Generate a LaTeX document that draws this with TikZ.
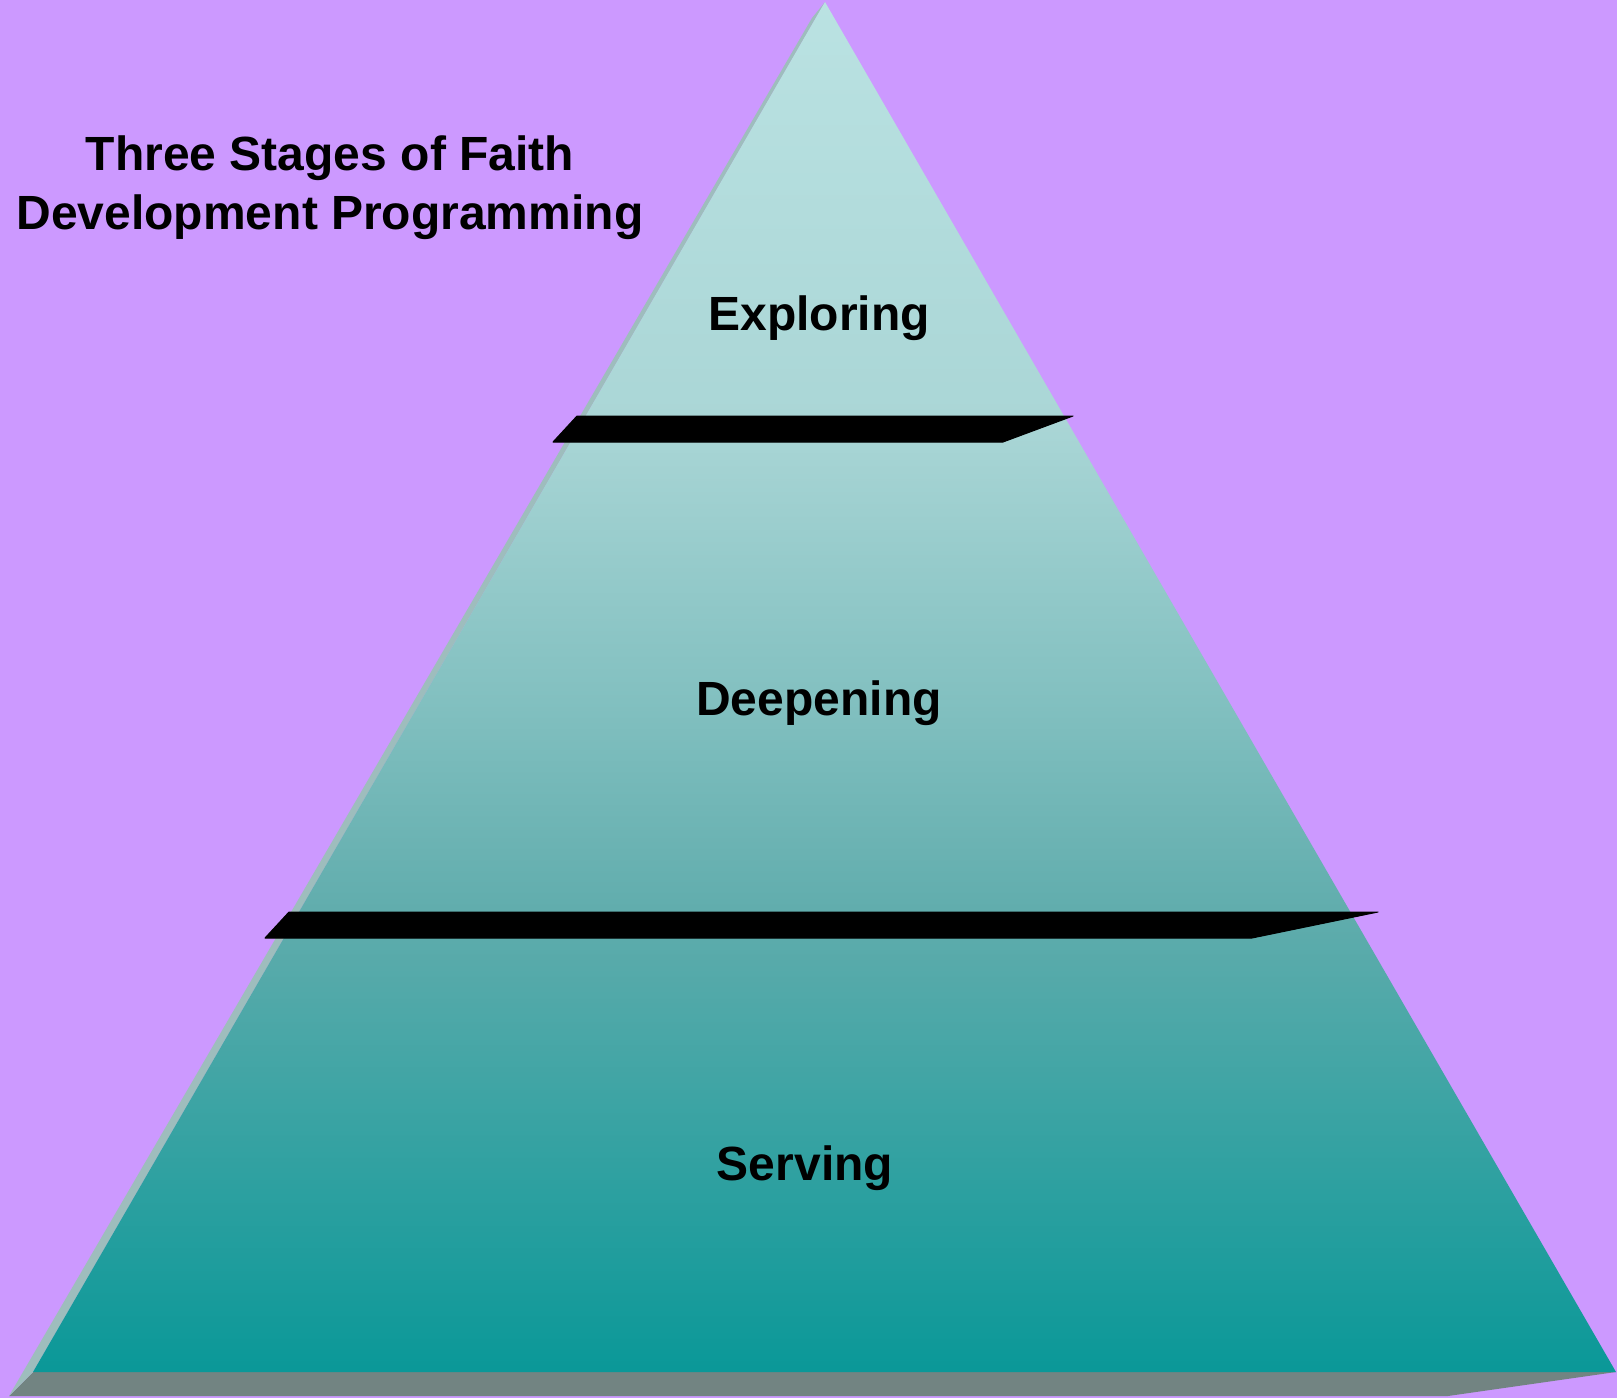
\documentclass[tikz,border=0pt]{standalone}
\usepackage{fontspec}
\setmainfont{Liberation Sans}
\definecolor{bgpurple}{RGB}{204,153,255}
\definecolor{facetop}{RGB}{186,226,226}
\definecolor{faceup}{RGB}{170,214,214}
\definecolor{facemid}{RGB}{130,192,192}
\definecolor{facelow}{RGB}{95,172,172}
\definecolor{facebot}{RGB}{10,152,152}
\definecolor{edgeshadow}{RGB}{158,189,189}
\definecolor{baseshadow}{RGB}{114,132,130}
\pgfdeclareverticalshading{pyrshade}{100bp}{color(0bp)=(facebot); color(25bp)=(facebot); color(41.5bp)=(facelow); color(49.5bp)=(facemid); color(59.7bp)=(faceup); color(75bp)=(facetop); color(100bp)=(facetop)}
\tikzset{
  lbl/.style={font=\fontsize{48}{58}\selectfont\bfseries, anchor=base, inner sep=0pt},
  barstyle/.style={fill=black, draw=black, line width=1pt, line join=round}
}
\begin{document}
\begin{tikzpicture}[x=1pt,y=-1pt]
\useasboundingbox (0,0) rectangle (1617,1398);
\fill[bgpurple] (0,0) rectangle (1617,1398);
% base shadow
\fill[baseshadow] (33,1372) -- (1616,1372) -- (1448,1396) -- (9,1396) -- cycle;
% left edge shadow
\fill[edgeshadow] (825,2) -- (33,1372) -- (9,1396) -- (812,18) -- cycle;
% face
\shade[shading=pyrshade] (825,2) -- (1616,1372) -- (33,1372) -- cycle;
% bars
\fill[barstyle] (553,442) -- (577,416) -- (1073,416) -- (1003,442) -- cycle;
\fill[barstyle] (265,938) -- (289,912) -- (1378,912) -- (1252,938) -- cycle;
% labels
\node[lbl] (t1) at (330,170) {Three Stages of Faith};
\node[lbl] (t2) at (330,229) {Development Programming};
\node[lbl] (explore) at (819,330) {Exploring};
\node[lbl] (deepen) at (819,715) {Deepening};
\node[lbl] (serve) at (805,1180) {Serving};
\end{tikzpicture}
\end{document}
